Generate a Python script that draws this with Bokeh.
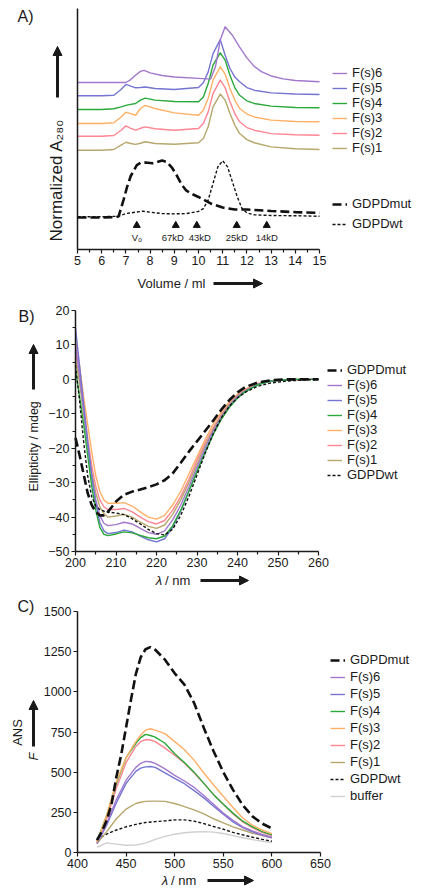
import math
from bokeh.plotting import figure
from bokeh.models import (Legend, LegendItem, Label, Arrow, NormalHead,
                          FixedTicker, Range1d)
from bokeh.layouts import column
from bokeh.embed import file_html
from bokeh.resources import INLINE
from bokeh.core.properties import value

FONT = "Liberation Sans"
INK = "#1a1a1a"

# ---------------- colours ----------------
C_F6 = "#a277cc"
C_F5 = "#7474d2"
C_F4 = "#2aa83a"
C_F3 = "#ffb066"
C_F2 = "#ff8593"
C_F1 = "#b8a76c"
C_BUF = "#cfcfcf"

# ---------------- Panel A : SEC (normalized A280, offset traces) ----------------
vol_fs = [5, 6, 6.5, 6.8, 7.0, 7.2, 7.4, 7.6, 7.8, 8.2, 9, 10.0, 10.2, 10.4, 10.6, 10.9,
          11.1, 11.3, 11.5, 11.7, 12.0, 12.3, 13, 14, 15]
a_fs1 = [41.2, 41.2, 41.5, 43.3, 44.5, 44.0, 43.6, 44.1, 44.7, 44.0, 43.7, 44.3, 46.1, 50.9,
         59.2, 64.5, 62.0, 56.4, 51.6, 48.1, 45.6, 44.3, 42.6, 41.8, 41.5]
a_fs2 = [47.0, 47.0, 47.3, 49.5, 51.3, 50.3, 49.5, 50.3, 50.9, 50.1, 49.5, 50.2, 52.3, 57.1,
         64.7, 70.3, 67.2, 61.3, 56.4, 53.0, 50.6, 49.5, 48.1, 47.6, 47.4]
a_fs3 = [52.3, 52.3, 52.6, 55.0, 57.0, 56.4, 55.7, 58.5, 59.8, 58.5, 56.7, 55.7, 57.8, 62.7,
         70.3, 75.8, 72.8, 66.8, 62.0, 58.5, 56.2, 55.0, 53.7, 53.1, 53.0]
a_fs4 = [58.1, 58.1, 58.4, 59.2, 59.8, 60.2, 60.6, 62.0, 62.8, 62.0, 61.4, 61.3, 63.3, 68.9,
         76.5, 81.6, 78.6, 72.3, 67.2, 64.0, 61.7, 60.6, 59.5, 58.9, 58.8]
a_fs5 = [63.8, 63.8, 64.0, 66.4, 68.5, 67.8, 67.1, 67.2, 67.4, 66.8, 66.4, 67.2, 69.2, 73.7,
         81.3, 87.1, 80.6, 75.1, 71.6, 69.6, 67.2, 66.1, 65.0, 64.5, 64.3]
vol_fs6 = [5, 6, 7.0, 7.2, 7.4, 7.6, 7.75, 8.0, 8.5, 9, 10, 10.5, 10.7, 10.9, 11.1, 11.4,
           11.7, 12.0, 12.3, 12.6, 13.0, 13.5, 14, 15]
a_fs6 = [69.3, 69.3, 69.3, 70.5, 72.3, 73.9, 74.3, 73.3, 72.2, 71.6, 71.0, 70.7, 75.8, 86.9,
         92.4, 88.9, 84.0, 79.5, 76.0, 73.8, 72.0, 70.8, 70.1, 69.6]
vol_mut = [5, 6, 6.6, 6.7, 6.9, 7.05, 7.2, 7.45, 7.6, 7.8, 8.1, 8.5, 8.7, 8.9, 9.1, 9.3, 9.5,
           9.8, 10.0, 10.5, 11.0, 11.5, 12.0, 12.5, 13, 14, 15]
a_mut = [13.3, 13.3, 13.4, 13.8, 20.5, 26.0, 30.5, 35.0, 35.9, 36.1, 35.8, 36.9, 36.3, 34.0,
         30.8, 27.0, 24.4, 22.7, 21.8, 19.1, 17.4, 16.6, 16.6, 16.3, 16.0, 15.5, 15.2]
vol_wt = [5, 6, 6.7, 7.0, 7.4, 7.7, 8.0, 8.5, 9.0, 9.5, 10.0, 10.2, 10.4, 10.6, 10.8, 11.0,
          11.2, 11.4, 11.6, 11.8, 12.0, 12.3, 13, 14, 15]
a_wt = [13.6, 13.6, 13.8, 14.9, 15.5, 15.9, 15.5, 14.9, 14.8, 14.9, 15.8, 17.0, 20.5, 27.4,
        34.3, 36.8, 34.3, 28.1, 21.9, 17.0, 15.2, 14.4, 14.1, 14.0, 13.8]
std_vol = [7.45, 9.06, 9.93, 11.58, 12.82]
std_lab = ["V\u2092", "67kD", "43kD", "25kD", "14kD"]
a_xticks = list(range(5, 16))

# ---------------- Panel B : CD spectra ----------------
wl_cd = [200, 201, 202, 203, 204, 205, 206, 207, 208, 210, 212, 214, 216, 218, 220, 222, 224,
         226, 228, 230, 232, 234, 236, 238, 240, 242, 245, 248, 252, 256, 260]
b_fs3 = [11, 4, -5, -13, -21, -28, -32.5, -35, -36, -36, -35.8, -36.8, -38.5, -40, -40.6, -39.5,
         -36.5, -32.5, -27.5, -22.5, -17.5, -13, -9.5, -6.5, -4.3, -2.8, -1.2, -0.4, -0.1, 0, 0]
b_fs2 = [8, 1, -8, -17, -25, -31, -35, -37, -37.8, -37.8, -37.5, -38.5, -40, -41.3, -42, -41,
         -38, -34, -29, -23.5, -18.5, -14, -10.2, -7, -4.6, -3, -1.3, -0.5, -0.1, 0, 0]
b_fs1 = [6, -1, -10, -19, -27, -33, -37, -39, -40, -39.7, -39.2, -40, -41.5, -42.7, -43.3, -42.3,
         -39.2, -35, -30, -24.5, -19.2, -14.5, -10.5, -7.2, -4.8, -3.1, -1.4, -0.5, -0.1, 0, 0]
b_fs6 = [10, 1, -9, -19, -28, -35, -39.5, -41.8, -42.5, -42.2, -41.5, -42, -43.3, -44.5, -45, -44,
         -40.8, -36.5, -31.2, -25.5, -20, -15, -11, -7.6, -5, -3.3, -1.5, -0.5, -0.1, 0, 0]
b_fs5 = [15, 4, -7, -18, -28, -36, -41.5, -44, -44.8, -44.5, -43.8, -44.3, -45.5, -46.6, -47.2,
         -46.3, -43, -38.2, -32.5, -26.6, -21, -15.8, -11.5, -8, -5.3, -3.4, -1.5, -0.5, -0.1, 0, 0]
b_fs4 = [3, -5, -13, -22, -31, -38, -43, -45, -45.4, -44.9, -44.3, -44.6, -45.3, -46, -46.3, -45.5,
         -42.5, -38, -32.5, -26.8, -21.2, -16, -11.6, -8.1, -5.4, -3.5, -1.6, -0.6, -0.1, 0, 0]
b_wt = [4, -6, -18, -28, -34, -36.8, -37.8, -38.3, -38.6, -38.8, -39.3, -40.5, -42, -43.6, -44.8,
        -45.2, -43.5, -39.5, -34, -27.8, -21.5, -15.8, -11.2, -7.8, -5.4, -3.7, -2, -1.1, -0.5,
        -0.2, 0]
wl_mut = [200, 201, 202, 203, 204, 205, 206, 207, 208, 209, 210, 212, 214, 216, 218, 220, 222,
          224, 226, 228, 230, 232, 234, 236, 238, 240, 242, 245, 248, 252, 256, 260]
b_mut = [-17, -22, -27.5, -33, -36.5, -38.5, -39.5, -39.5, -38.5, -37, -35.5, -33.5, -32.6, -32,
         -31.3, -30.5, -29.3, -27.3, -24.2, -21, -18, -15, -12, -8.8, -6, -3.8, -2.2, -0.9, -0.3,
         0, 0, 0]
b_xticks = list(range(200, 261, 10))
b_yticks = list(range(-50, 21, 10))

# ---------------- Panel C : ANS fluorescence ----------------
wl_fl = [420, 430, 440, 450, 460, 465, 470, 475, 480, 490, 500, 510, 520, 530, 540, 550, 560,
         570, 580, 590, 600]
c_fs3 = [65, 230, 440, 590, 690, 730, 762, 770, 762, 740, 690, 640, 575, 495, 420, 350, 280,
         215, 170, 140, 118]
c_fs4 = [70, 230, 430, 590, 680, 715, 735, 728, 718, 680, 615, 560, 500, 430, 360, 300, 245,
         195, 160, 130, 110]
c_fs2 = [65, 210, 400, 560, 660, 690, 703, 700, 690, 650, 605, 555, 495, 430, 360, 300, 240,
         190, 155, 125, 105]
c_fs6 = [60, 180, 330, 450, 530, 555, 567, 565, 555, 520, 480, 445, 405, 355, 300, 245, 200,
         160, 135, 112, 95]
c_fs5 = [55, 170, 310, 430, 505, 525, 533, 535, 530, 495, 462, 428, 385, 340, 288, 238, 190,
         155, 128, 108, 92]
c_fs1 = [55, 130, 210, 270, 305, 313, 318, 320, 320, 318, 305, 285, 265, 240, 210, 185, 160,
         140, 120, 105, 92]
wl_flmut = [420, 425, 430, 435, 440, 445, 450, 455, 460, 465, 470, 475, 480, 490, 500, 510,
            520, 530, 540, 550, 560, 570, 580, 590, 600]
c_mut = [77, 130, 200, 300, 470, 610, 780, 950, 1110, 1215, 1265, 1278, 1262, 1200, 1115, 1045,
         930, 775, 630, 500, 390, 295, 225, 180, 150]
wl_flwt = [420, 430, 440, 450, 460, 470, 480, 490, 500, 510, 520, 530, 540, 550, 560, 570,
           580, 590, 600]
c_wt = [80, 115, 140, 160, 175, 187, 192, 197, 203, 203, 195, 180, 162, 145, 125, 110, 95, 82, 70]
c_buf = [32, 60, 52, 45, 46, 58, 82, 100, 114, 123, 128, 130, 127, 118, 105, 92, 80, 70, 62]
c_xticks = list(range(400, 651, 50))
c_yticks = list(range(0, 1501, 250))

W = 422


def span(d0, d1, p0, p1, total):
    """Range so that d0 sits at pixel p0 and d1 at pixel p1 of a frame `total` px long."""
    k = (d1 - d0) / (p1 - p0)
    return (d0 - p0 * k, d1 + (total - p1) * k)


def make_fig(H, xdata, xpix, ydata, ypix, xticks, yticks, xminor=None, yminor=None):
    # frame covers the whole figure; axes are pinned at the data origin so that
    # every label / legend / arrow is drawn inside the (unclipped) frame
    xr = span(xdata[0], xdata[1], xpix[0], xpix[1], W)
    yr = span(ydata[0], ydata[1], H - ypix[0], H - ypix[1], H)
    p = figure(width=W, height=H, x_range=Range1d(*xr), y_range=Range1d(*yr),
               output_backend="svg", toolbar_location=None,
               min_border_left=0, min_border_right=0, min_border_top=0, min_border_bottom=0)
    p.outline_line_color = None
    p.xgrid.visible = False
    p.ygrid.visible = False
    p.xaxis.fixed_location = ydata[0]
    p.yaxis.fixed_location = xdata[0]
    p.xaxis.bounds = tuple(xdata)
    p.yaxis.bounds = tuple(ydata)
    p.xaxis.ticker = FixedTicker(ticks=xticks, minor_ticks=xminor or [])
    p.yaxis.ticker = FixedTicker(ticks=yticks, minor_ticks=yminor or [])
    for ax in (p.xaxis[0], p.yaxis[0]):
        ax.axis_line_width = 1.5
        ax.axis_line_color = INK
        ax.major_tick_line_color = INK
        ax.minor_tick_line_color = INK
        ax.major_tick_line_width = 1.2
        ax.minor_tick_line_width = 1.2
        ax.major_tick_out = 4
        ax.major_tick_in = 0
        ax.minor_tick_out = 3
        ax.minor_tick_in = 0
        ax.major_label_text_font = FONT
        ax.major_label_text_font_size = "12.5px"
        ax.major_label_text_color = INK
        ax.major_label_standoff = 2
    return p


def lab(p, H, x, y, text, size="12.5px", angle=0.0, align="center", style="normal"):
    p.add_layout(Label(x=x, y=H - y, x_units="screen", y_units="screen", text=text,
                       text_font=FONT, text_font_size=size, text_color=INK, angle=angle,
                       text_align=align, text_baseline="middle", text_font_style=style))


def arrow(p, H, x0, y0, x1, y1):
    p.add_layout(Arrow(x_start=x0, y_start=H - y0, x_end=x1, y_end=H - y1,
                       start_units="screen", end_units="screen", line_width=3, line_color=INK,
                       end=NormalHead(size=9, fill_color=INK, line_color=INK, line_width=1)))


def legend(p, H, items, x, bottom, spacing):
    lg = Legend(items=items, location=(x, H - bottom), orientation="vertical", glyph_width=15,
                glyph_height=12, label_height=12, spacing=spacing, label_standoff=5,
                padding=0, margin=0, border_line_color=None, background_fill_alpha=0,
                label_text_font=FONT, label_text_font_size="13px", label_text_color=INK)
    p.add_layout(lg)


LW = 1.4
MUT = dict(line_color="#111111", line_width=2.6, line_dash="9 4")
WT = dict(line_color="#111111", line_width=1.4, line_dash="3 2")

# ======================= Panel A (page rows 0-300) =======================
HA = 300
pa = make_fig(HA, (5, 15), (77, 319), (0, 100), (249, 8), a_xticks, [],
              xminor=[t + 0.5 for t in a_xticks[:-1]])
pa.yaxis.major_tick_out = 0
pa.yaxis.major_label_text_font_size = "0px"
ra1 = pa.line(vol_fs, a_fs1, line_color=C_F1, line_width=LW, line_join="round")
ra2 = pa.line(vol_fs, a_fs2, line_color=C_F2, line_width=LW, line_join="round")
ra3 = pa.line(vol_fs, a_fs3, line_color=C_F3, line_width=LW, line_join="round")
ra4 = pa.line(vol_fs, a_fs4, line_color=C_F4, line_width=LW, line_join="round")
ra5 = pa.line(vol_fs, a_fs5, line_color=C_F5, line_width=LW, line_join="round")
ra6 = pa.line(vol_fs6, a_fs6, line_color=C_F6, line_width=LW, line_join="round")
rmut = pa.line(vol_mut, a_mut, **MUT)
rwt = pa.line(vol_wt, a_wt, **WT)
pa.scatter(std_vol, [10] * len(std_vol), marker="triangle", size=7, color="#111111")
pa.text(x=std_vol, y=[5] * len(std_vol), text=std_lab, x_offset=[0, -3, 3, 0, 0],
        text_align="center", text_baseline="middle", text_font=value(FONT),
        text_font_size="9.5px", text_color=INK)
legend(pa, HA, [LegendItem(label="F(s)6", renderers=[ra6]), LegendItem(label="F(s)5", renderers=[ra5]),
                LegendItem(label="F(s)4", renderers=[ra4]), LegendItem(label="F(s)3", renderers=[ra3]),
                LegendItem(label="F(s)2", renderers=[ra2]), LegendItem(label="F(s)1", renderers=[ra1])],
       332, 155, 0)
legend(pa, HA, [LegendItem(label="GDPDmut", renderers=[rmut]),
                LegendItem(label="GDPDwt", renderers=[rwt])], 332, 231, 5)
lab(pa, HA, 17, 16, "A)", size="16px", align="left")
lab(pa, HA, 56, 241, "Normalized A\u2082\u2088\u2080", size="17px", angle=math.pi / 2,
    align="left")
arrow(pa, HA, 57, 97, 57, 46)
lab(pa, HA, 137, 283, "Volume / ml", size="13px", align="left")
arrow(pa, HA, 213, 283, 262, 283)

# ======================= Panel B (page rows 300-595) =======================
OB = 300
HB = 295
pb = make_fig(HB, (200, 260), (75, 318), (-50, 20), (551 - OB, 310 - OB), b_xticks, b_yticks,
              xminor=[t + 5 for t in b_xticks[:-1]], yminor=[t + 5 for t in b_yticks[:-1]])
rb3 = pb.line(wl_cd, b_fs3, line_color=C_F3, line_width=LW, line_join="round")
rb2 = pb.line(wl_cd, b_fs2, line_color=C_F2, line_width=LW, line_join="round")
rb1 = pb.line(wl_cd, b_fs1, line_color=C_F1, line_width=LW, line_join="round")
rb6 = pb.line(wl_cd, b_fs6, line_color=C_F6, line_width=LW, line_join="round")
rb5 = pb.line(wl_cd, b_fs5, line_color=C_F5, line_width=LW, line_join="round")
rb4 = pb.line(wl_cd, b_fs4, line_color=C_F4, line_width=LW, line_join="round")
rbwt = pb.line(wl_cd, b_wt, **WT)
rbmut = pb.line(wl_mut, b_mut, **MUT)
legend(pb, HB, [LegendItem(label="GDPDmut", renderers=[rbmut]),
                LegendItem(label="F(s)6", renderers=[rb6]), LegendItem(label="F(s)5", renderers=[rb5]),
                LegendItem(label="F(s)4", renderers=[rb4]), LegendItem(label="F(s)3", renderers=[rb3]),
                LegendItem(label="F(s)2", renderers=[rb2]), LegendItem(label="F(s)1", renderers=[rb1]),
                LegendItem(label="GDPDwt", renderers=[rbwt])], 327, 482 - OB, 0)
lab(pb, HB, 18, 316 - OB, "B)", size="16px", align="left")
lab(pb, HB, 33, 491 - OB, "Ellipticity / mdeg", size="12.5px", angle=math.pi / 2, align="left")
arrow(pb, HB, 33, 389 - OB, 33, 344 - OB)
lab(pb, HB, 158.5, 580 - OB, "\u03bb", size="13px", style="italic")
lab(pb, HB, 164.5, 580 - OB, "/ nm", size="13px", align="left")
arrow(pb, HB, 200, 580 - OB, 248, 580 - OB)

# ======================= Panel C (page rows 595-893) =======================
OC = 595
HC = 298
pc = make_fig(HC, (400, 650), (77, 320), (0, 1500), (852 - OC, 611 - OC), c_xticks, c_yticks)
rcb = pc.line(wl_flwt, c_buf, line_color=C_BUF, line_width=LW, line_join="round")
rcwt = pc.line(wl_flwt, c_wt, **WT)
rc1 = pc.line(wl_fl, c_fs1, line_color=C_F1, line_width=LW, line_join="round")
rc5 = pc.line(wl_fl, c_fs5, line_color=C_F5, line_width=LW, line_join="round")
rc6 = pc.line(wl_fl, c_fs6, line_color=C_F6, line_width=LW, line_join="round")
rc2 = pc.line(wl_fl, c_fs2, line_color=C_F2, line_width=LW, line_join="round")
rc4 = pc.line(wl_fl, c_fs4, line_color=C_F4, line_width=LW, line_join="round")
rc3 = pc.line(wl_fl, c_fs3, line_color=C_F3, line_width=LW, line_join="round")
rcmut = pc.line(wl_flmut, c_mut, **MUT)
legend(pc, HC, [LegendItem(label="GDPDmut", renderers=[rcmut]),
                LegendItem(label="F(s)6", renderers=[rc6]), LegendItem(label="F(s)5", renderers=[rc5]),
                LegendItem(label="F(s)4", renderers=[rc4]), LegendItem(label="F(s)3", renderers=[rc3]),
                LegendItem(label="F(s)2", renderers=[rc2]), LegendItem(label="F(s)1", renderers=[rc1]),
                LegendItem(label="GDPDwt", renderers=[rcwt]),
                LegendItem(label="buffer", renderers=[rcb])], 330, 803 - OC, 2)
lab(pc, HC, 17, 606 - OC, "C)", size="16px", align="left")
lab(pc, HC, 17, 732 - OC, "ANS", size="13px", angle=math.pi / 2)
lab(pc, HC, 33, 756 - OC, "F", size="13px", angle=math.pi / 2, style="italic")
arrow(pc, HC, 33, 746 - OC, 33, 700 - OC)
lab(pc, HC, 164.5, 880 - OC, "\u03bb", size="13px", style="italic")
lab(pc, HC, 170.5, 880 - OC, "/ nm", size="13px", align="left")
arrow(pc, HC, 207, 880 - OC, 253, 880 - OC)

layout = column(pa, pb, pc, spacing=0)
open("out.html", "w").write(file_html(layout, INLINE))
